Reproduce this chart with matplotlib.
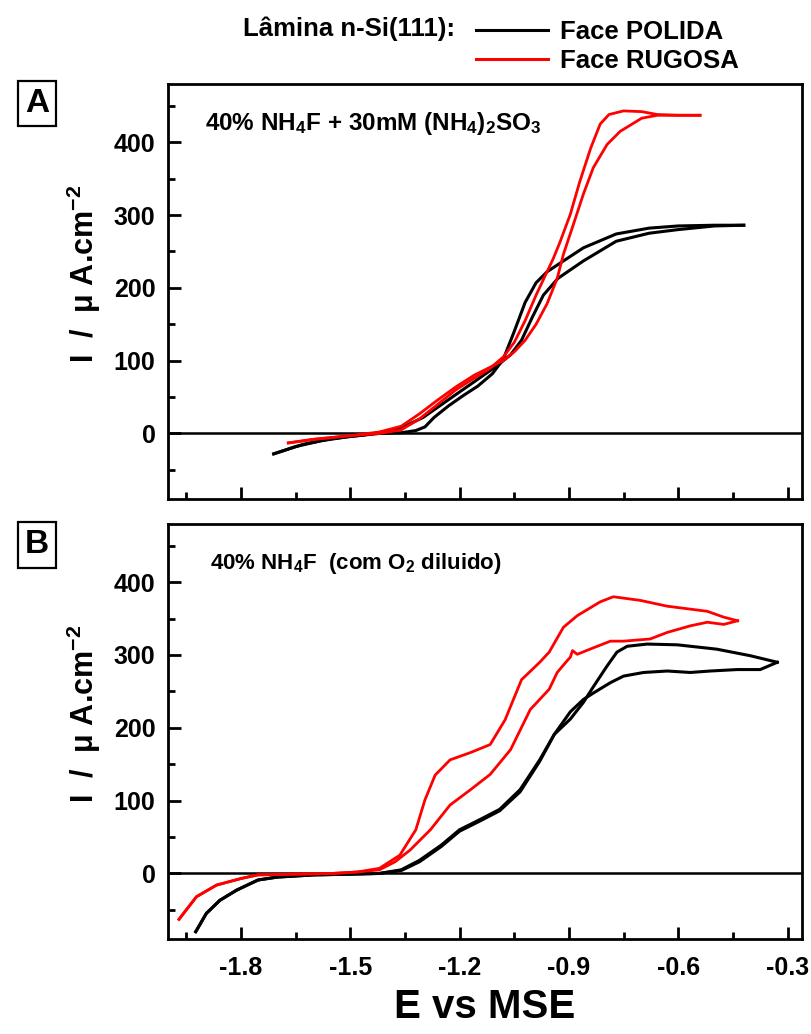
import numpy as np
import matplotlib
matplotlib.use("Agg")
import matplotlib.pyplot as plt
from matplotlib.lines import Line2D

plt.rcParams['font.family'] = ['Liberation Sans', 'DejaVu Sans']
plt.rcParams['font.weight'] = 'bold'
plt.rcParams['mathtext.fontset'] = 'custom'
plt.rcParams['mathtext.rm'] = 'Liberation Sans:bold'
plt.rcParams['mathtext.it'] = 'Liberation Sans:bold'
plt.rcParams['mathtext.bf'] = 'Liberation Sans:bold'

# ---- panel A : 40% NH4F + 30mM (NH4)2SO3 ----
a_black_fwd_E = [-1.71, -1.65, -1.58, -1.50, -1.42, -1.36, -1.32, -1.295, -1.27, -1.23, -1.19, -1.15,
                 -1.11, -1.08, -1.05, -1.02, -0.99, -0.96, -0.93, -0.86, -0.77, -0.68, -0.60, -0.50, -0.42]
a_black_fwd_I = [-28, -18, -10, -4, 0, 1, 4, 9, 22, 38, 52, 65,
                 82, 102, 140, 180, 207, 222, 232, 255, 274, 282, 285, 286, 286]
a_black_rev_E = [-0.42, -0.50, -0.60, -0.68, -0.77, -0.86, -0.93, -0.97, -1.00, -1.03, -1.06, -1.10,
                 -1.14, -1.18, -1.22, -1.26, -1.30, -1.35, -1.40, -1.46, -1.55, -1.63, -1.71]
a_black_rev_I = [286, 285, 280, 275, 264, 237, 213, 190, 160, 128, 108, 92,
                 78, 64, 50, 36, 22, 10, 3, -2, -7, -15, -28]

a_red_fwd_E = [-1.67, -1.60, -1.50, -1.42, -1.36, -1.31, -1.26, -1.21, -1.16, -1.12, -1.08, -1.05,
               -1.02, -0.99, -0.96, -0.943, -0.925, -0.896, -0.87, -0.84, -0.814, -0.79, -0.75, -0.70,
               -0.657, -0.60, -0.54]
a_red_fwd_I = [-13, -8, -3, 0, 5, 20, 40, 60, 76, 88, 105, 125,
               155, 190, 222, 240, 262, 301, 346, 392, 425, 438, 443, 442,
               438, 437, 437]
a_red_rev_E = [-0.54, -0.60, -0.657, -0.70, -0.759, -0.795, -0.833, -0.86, -0.887, -0.915, -0.932,
               -0.96, -0.99, -1.02, -1.05, -1.08, -1.12, -1.16, -1.21, -1.26, -1.31, -1.36, -1.42,
               -1.50, -1.60, -1.67]
a_red_rev_I = [437, 437, 437, 433, 415, 397, 365, 329, 288, 246, 213,
               178, 150, 128, 112, 100, 90, 80, 64, 46, 27, 10, 2,
               -3, -8, -13]

# ---- panel B : 40% NH4F (com O2 diluido) ----
b_black_fwd_E = [-1.924, -1.895, -1.858, -1.812, -1.753, -1.70, -1.60, -1.50, -1.42, -1.36, -1.31,
                 -1.25, -1.20, -1.144, -1.09, -1.034, -0.98, -0.94, -0.896, -0.86, -0.832, -0.795,
                 -0.768, -0.74, -0.685, -0.603, -0.494, -0.402, -0.328]
b_black_fwd_I = [-80, -55, -37, -23, -9, -5, -2, -1, 0, 5, 18,
                 39, 60, 74, 88, 115, 156, 191, 212, 235, 257, 285,
                 304, 312, 315, 314, 308, 299, 290]
b_black_rev_E = [-0.328, -0.375, -0.438, -0.512, -0.567, -0.63, -0.695, -0.75, -0.786, -0.832, -0.86,
                 -0.896, -0.94, -0.98, -1.034, -1.09, -1.144, -1.20, -1.25, -1.31, -1.36, -1.42,
                 -1.50, -1.60, -1.70, -1.753, -1.812, -1.858, -1.895, -1.924]
b_black_rev_I = [290, 280, 280, 278, 276, 278, 276, 271, 262, 248, 239,
                 222, 191, 154, 112, 86, 72, 58, 37, 16, 4, 0,
                 -1, -2, -5, -9, -23, -37, -55, -80]

b_red_fwd_E = [-1.97, -1.922, -1.867, -1.80, -1.754, -1.65, -1.55, -1.48, -1.42, -1.364, -1.32,
               -1.295, -1.267, -1.226, -1.17, -1.116, -1.075, -1.03, -0.98, -0.954, -0.915, -0.877,
               -0.814, -0.778, -0.704, -0.63, -0.567, -0.52, -0.475, -0.437]
b_red_fwd_I = [-63, -32, -16, -7, -2, -1, 0, 2, 7, 25, 60,
               101, 135, 156, 166, 177, 211, 266, 290, 304, 338, 354,
               373, 380, 375, 367, 363, 360, 352, 347]
b_red_rev_E = [-0.437, -0.475, -0.52, -0.567, -0.63, -0.677, -0.75, -0.786, -0.832, -0.877, -0.89,
               -0.896, -0.905, -0.932, -0.954, -1.006, -1.06, -1.116, -1.17, -1.226, -1.28, -1.336,
               -1.377, -1.42, -1.48, -1.55, -1.65, -1.754, -1.80, -1.867, -1.922, -1.97]
b_red_rev_I = [347, 342, 345, 340, 331, 322, 319, 319, 310, 301, 306,
               297, 292, 276, 253, 225, 170, 136, 115, 94, 60, 32,
               16, 5, 2, 0, -1, -2, -7, -16, -32, -63]

xticks = [-1.8, -1.5, -1.2, -0.9, -0.6, -0.3]
xticklabels = ['-1.8', '-1.5', '-1.2', '-0.9', '-0.6', '-0.3']
yticks = [0, 100, 200, 300, 400]

fig = plt.figure(figsize=(8.11, 10.34), dpi=100)
axA = fig.add_axes([0.2072, 0.5174, 0.7818, 0.4014])
axB = fig.add_axes([0.2072, 0.0919, 0.7818, 0.4014])

panels = [
    (axA, a_black_fwd_E, a_black_fwd_I, a_black_rev_E, a_black_rev_I,
     a_red_fwd_E, a_red_fwd_I, a_red_rev_E, a_red_rev_I),
    (axB, b_black_fwd_E, b_black_fwd_I, b_black_rev_E, b_black_rev_I,
     b_red_fwd_E, b_red_fwd_I, b_red_rev_E, b_red_rev_I),
]
for ax, kfE, kfI, krE, krI, rfE, rfI, rrE, rrI in panels:
    ax.axhline(0, color='black', lw=1.8, zorder=1)
    ax.plot(kfE, kfI, color='black', lw=2.2)
    ax.plot(krE, krI, color='black', lw=2.2)
    ax.plot(rfE, rfI, color='red', lw=2.0)
    ax.plot(rrE, rrI, color='red', lw=2.0)
    ax.set_xlim(-2.0, -0.26)
    ax.set_ylim(-90, 480)
    ax.set_xticks(xticks)
    ax.set_xticks(np.arange(-1.95, -0.3, 0.3), minor=True)
    ax.set_yticks(yticks)
    ax.set_yticks([-50, 50, 150, 250, 350, 450], minor=True)
    for s in ax.spines.values():
        s.set_linewidth(2.0)
    ax.tick_params(which='major', direction='in', length=9, width=2.0, labelsize=18)
    ax.tick_params(which='minor', direction='in', length=5, width=2.0)
    ax.tick_params(axis='y', pad=9)
    ax.tick_params(axis='x', pad=12)
    ax.tick_params(top=False, right=False, which='both')
    for lab in ax.get_yticklabels():
        lab.set_fontweight('bold')

axA.set_xticklabels([])
axB.set_xticklabels(xticklabels, fontweight='bold')
axB.set_xlabel('E vs MSE', fontsize=29, fontweight='bold', labelpad=6)

ylab = 'I  /  \u03bc A.cm$^{-2}$'
fig.text(0.103, 0.735, ylab, rotation=90, ha='center', va='center', fontsize=22, fontweight='bold')
fig.text(0.103, 0.310, ylab, rotation=90, ha='center', va='center', fontsize=22, fontweight='bold')

axA.text(0.058, 0.905, '40% NH$_4$F + 30mM (NH$_4$)$_2$SO$_3$', transform=axA.transAxes,
         fontsize=17.5, fontweight='bold', ha='left', va='center')
axB.text(0.066, 0.905, '40% NH$_4$F  (com O$_2$ diluido)', transform=axB.transAxes,
         fontsize=16, fontweight='bold', ha='left', va='center')

box = dict(boxstyle='square,pad=0.22', facecolor='white', edgecolor='black', lw=1.6)
fig.text(0.0456, 0.9, 'A', fontsize=24, fontweight='bold', ha='center', va='center', bbox=box)
fig.text(0.0456, 0.473, 'B', fontsize=24, fontweight='bold', ha='center', va='center', bbox=box)

fig.text(0.561, 0.972, 'Lâmina n-Si(111):', fontsize=18.5, fontweight='bold', ha='right', va='center')
handles = [Line2D([], [], color='black', lw=2.2), Line2D([], [], color='red', lw=2.2)]
fig.legend(handles, ['Face POLIDA', 'Face RUGOSA'], loc='upper left',
           bbox_to_anchor=(0.565, 0.998), frameon=False, prop={'size': 18.5, 'weight': 'bold'},
           handlelength=2.8, handletextpad=0.45, labelspacing=0.18, borderpad=0.2)

fig.savefig('out.png', dpi=100)
